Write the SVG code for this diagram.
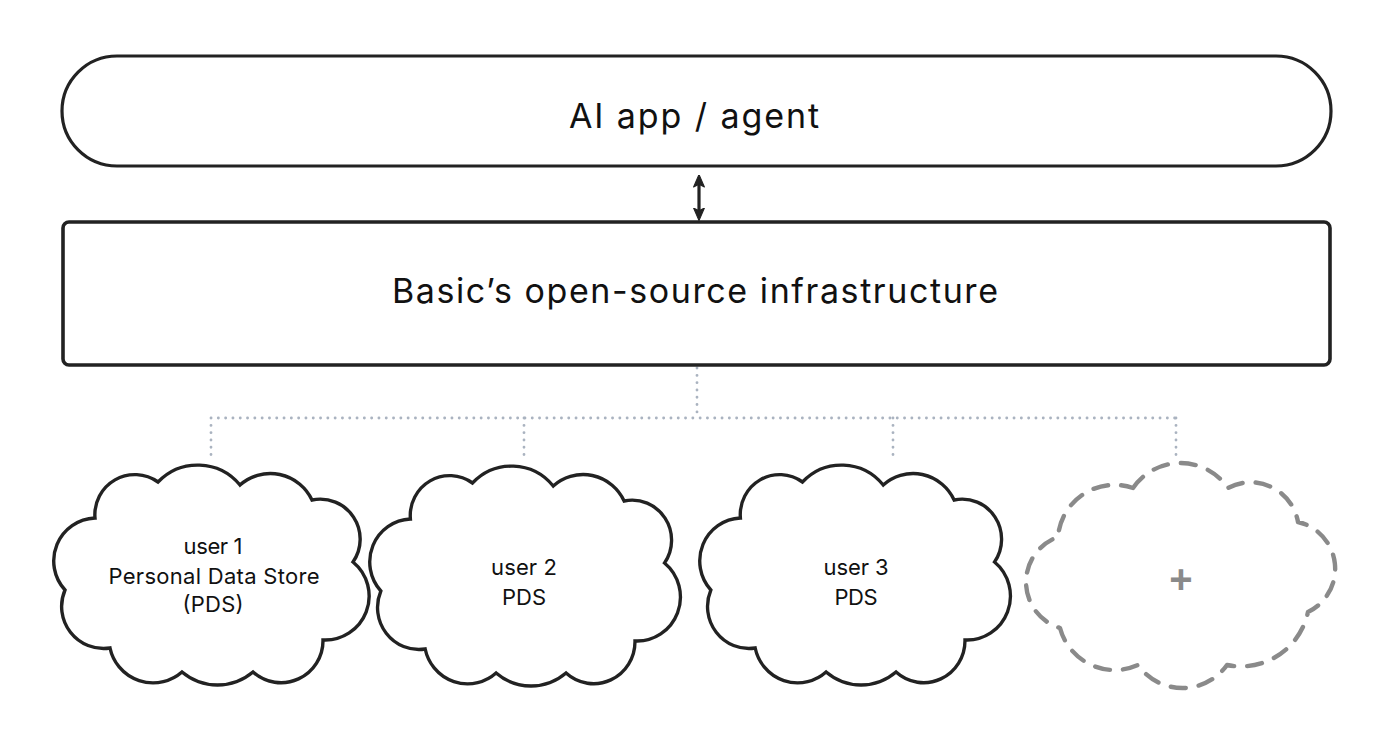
<svg xmlns="http://www.w3.org/2000/svg" width="1390" height="745" viewBox="0 0 1390 745">
<style>
.box{fill:#fff;stroke:#222;stroke-width:3.2}
.cloud{fill:#fff;stroke:#222;stroke-width:3.4;stroke-linejoin:miter}
.ghost{fill:#fff;stroke:#8a8a8a;stroke-width:4.4;stroke-dasharray:15 13;stroke-linecap:round;stroke-linejoin:round}
.dot{fill:none;stroke:#aab3c0;stroke-width:2.8;stroke-dasharray:0.1 7.2;stroke-linecap:round}
.big{font-family:Inter,"Liberation Sans",sans-serif;font-size:34px;fill:#111;text-anchor:middle}
.sm{font-family:Inter,"Liberation Sans",sans-serif;font-size:22px;fill:#111;text-anchor:middle}
</style>
<defs>
<path id="cl" d="M40,53 A40,40 0 0 1 103,17 A55,55 0 0 1 185,20 A46,46 0 0 1 257,35 A40,40 0 0 1 298,97 A44,44 0 0 1 268,175 A42,42 0 0 1 198,207 A55,55 0 0 1 127,207 A44,44 0 0 1 55,183 A42,42 0 0 1 10,125 A43,43 0 0 1 40,53 Z"/>
<marker id="ah" viewBox="0 0 12 12" refX="6" refY="6" markerWidth="13" markerHeight="13" markerUnits="userSpaceOnUse" orient="auto-start-reverse">
<path d="M0.5,1 L12,6 L0.5,11 L3,6 Z" fill="#222" stroke="#222" stroke-width="1" stroke-linejoin="round"/>
</marker>
</defs>
<rect width="1390" height="745" fill="#fff"/>
<g id="connectors">
<line x1="699" y1="181" x2="699" y2="214" stroke="#222" stroke-width="3.2" marker-start="url(#ah)" marker-end="url(#ah)"/>
<path class="dot" d="M697,368 V418 M211,418 H1176 M211,418 V460 M524,418 V460 M893,418 V460 M1176,418 V460"/>
</g>
<g id="agent">
<rect class="box" x="62" y="56" width="1269" height="110" rx="55"/>
<text class="big" x="694" y="128" textLength="250" lengthAdjust="spacing">AI app / agent</text>
</g>
<g id="infra">
<rect class="box" x="63" y="222" width="1267" height="143" rx="6" style="stroke-width:3.6"/>
<text class="big" x="695" y="303" textLength="606" lengthAdjust="spacing">Basic’s open-source infrastructure</text>
</g>
<g id="user1">
<use href="#cl" class="cloud" transform="translate(55,465)"/>
<text class="sm" x="213" y="554" textLength="59" lengthAdjust="spacing">user 1</text>
<text class="sm" x="214" y="584" textLength="211" lengthAdjust="spacing">Personal Data Store</text>
<text class="sm" x="213" y="612" textLength="61" lengthAdjust="spacing">(PDS)</text>
</g>
<g id="user2">
<use href="#cl" class="cloud" transform="translate(371,466) scale(0.985,1)"/>
<text class="sm" x="524" y="575" textLength="66" lengthAdjust="spacing">user 2</text>
<text class="sm" x="524" y="605" textLength="44" lengthAdjust="spacing">PDS</text>
</g>
<g id="user3">
<use href="#cl" class="cloud" transform="translate(701,465) scale(0.985,1)"/>
<text class="sm" x="856" y="575" textLength="65" lengthAdjust="spacing">user 3</text>
<text class="sm" x="856" y="605" textLength="43" lengthAdjust="spacing">PDS</text>
</g>
<g id="add">
<path class="ghost" d="M1133,488 A57.6,57.6 0 0 1 1228,488 A48,48 0 0 1 1298,522 A48,48 0 0 1 1308,612 A68.6,68.6 0 0 1 1227,665 A54.5,54.5 0 0 1 1138,665 A56.6,56.6 0 0 1 1060,628 A47.9,47.9 0 0 1 1058,537 A56.6,56.6 0 0 1 1133,488 Z"/>
<text x="1181" y="593" font-family="'Liberation Sans',sans-serif" font-size="40" font-weight="bold" fill="#8a8a8a" text-anchor="middle">+</text>
</g>
</svg>
